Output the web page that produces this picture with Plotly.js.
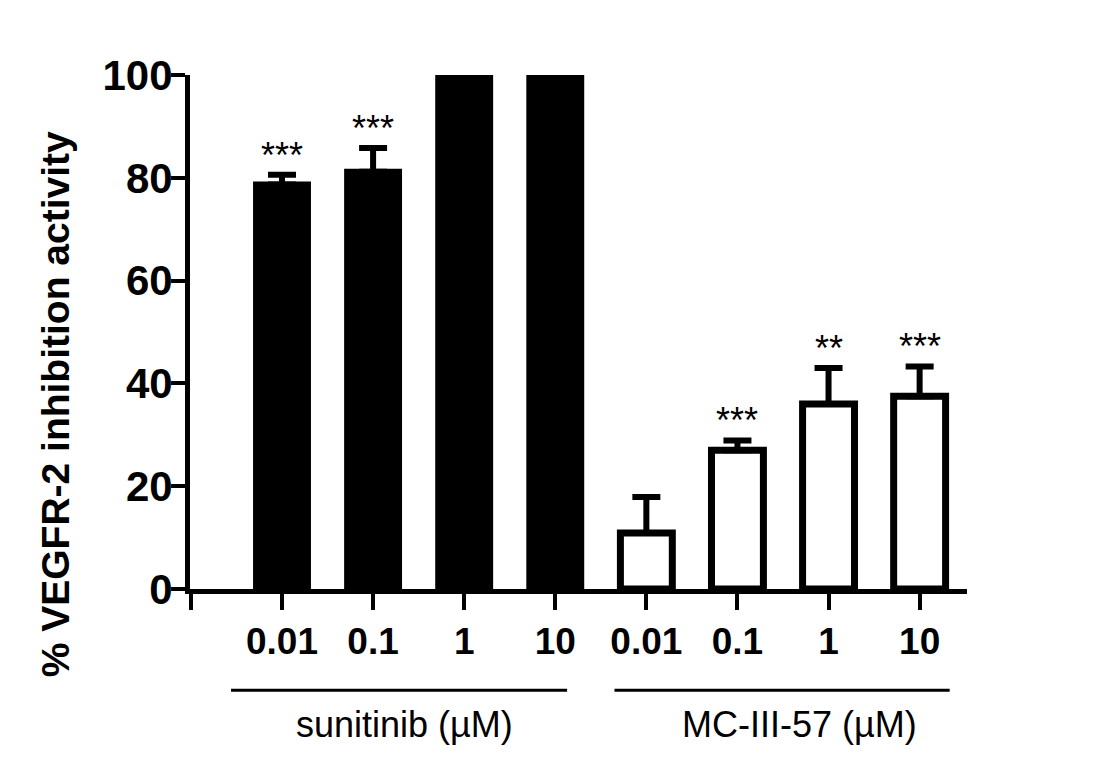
<!DOCTYPE html>
<html>
<head>
<meta charset="utf-8">
<script src="https://cdn.plot.ly/plotly-3.0.1.min.js"></script>
<style>
  html, body { margin: 0; padding: 0; background: #fff; }
  #chart { width: 1096px; height: 766px; }
</style>
</head>
<body>
<div id="chart"></div>
<script>
// concentrations (uM), same for both compounds
const doses = ['0.01', '0.1', '1', '10'];

// % VEGFR-2 inhibition
const sunitinibMean = [78.7, 81.2, 100, 100];
const sunitinibErr = [1.9, 4.6, 0, 0];
const mcMean = [10.9, 27.0, 36.0, 37.5];
const mcErr = [7.0, 1.9, 7.0, 5.8];

// significance marks over each bar
const sunitinibStars = ['***', '***', '', ''];
const mcStars = ['', '***', '**', '***'];

const groupNames = ['sunitinib (\u00b5M)', 'MC-III-57 (\u00b5M)'];
const yTitle = '% VEGFR-2 inhibition activity';

const font = 'Liberation Sans, Arial, sans-serif';

let xSun = doses.map((d, i) => i);
let xMc = doses.map((d, i) => i + 4);

let traceSun = {
    x: xSun,
    y: sunitinibMean,
    type: 'bar',
    width: 0.57,
    marker: { color: '#000', line: { color: '#000', width: 6 } },
    error_y: {
        type: 'data', symmetric: false,
        array: sunitinibErr, arrayminus: sunitinibErr.map(() => 0),
        color: '#000', thickness: 6, width: 14
    },
    name: 'sunitinib',
    hoverinfo: 'y'
};

let traceMc = {
    x: xMc,
    y: mcMean,
    type: 'bar',
    width: 0.57,
    marker: { color: '#fff', line: { color: '#000', width: 7 } },
    error_y: {
        type: 'data', symmetric: false,
        array: mcErr, arrayminus: mcErr.map(() => 0),
        color: '#000', thickness: 6, width: 14
    },
    name: 'MC-III-57',
    hoverinfo: 'y'
};

// stars sit a bit above the error bar caps
let annotations = [];
function addStars(xs, means, errs, stars) {
    xs.forEach((x, i) => {
        if (!stars[i]) return;
        annotations.push({
            x: x, y: means[i] + errs[i] + 3.8,
            xref: 'x', yref: 'y',
            text: stars[i], showarrow: false,
            yanchor: 'middle',
            font: { family: font, size: 36, color: '#000' }
        });
    });
}
addStars(xSun, sunitinibMean, sunitinibErr, sunitinibStars);
addStars(xMc, mcMean, mcErr, mcStars);

// group brackets under the dose labels
let groupLines = [[-0.56, 3.13], [3.65, 7.33]];
let shapes = [];
groupNames.forEach((name, g) => {
    let [x0, x1] = groupLines[g];
    shapes.push({
        type: 'line', xref: 'x', yref: 'paper',
        x0: x0, x1: x1, y0: -0.197, y1: -0.197,
        line: { color: '#000', width: 3 }
    });
    annotations.push({
        x: g === 0 ? 1.35 : 5.68, y: -0.263,
        xref: 'x', yref: 'paper',
        text: name, showarrow: false,
        xanchor: 'center', yanchor: 'middle',
        font: { family: font, size: 36, color: '#000' }
    });
});

// y title as a rotated annotation, it sits lower than the plot middle
annotations.push({
    x: -0.172, y: 0.36, xref: 'paper', yref: 'paper',
    text: yTitle, textangle: -90, showarrow: false,
    xanchor: 'center', yanchor: 'middle',
    font: { family: font, size: 39, color: '#000', weight: 'bold' }
});

let layout = {
    width: 1096,
    height: 766,
    margin: { l: 190, r: 129, t: 75, b: 176.5 },
    paper_bgcolor: '#fff',
    plot_bgcolor: '#fff',
    showlegend: false,
    barmode: 'overlay',
    xaxis: {
        range: [-1.01, 7.52],
        tickmode: 'array',
        tickvals: [-1].concat(xSun, xMc),
        ticktext: [''].concat(doses, doses),
        ticks: 'outside', ticklen: 16, tickwidth: 4, tickcolor: '#000',
        showline: true, linecolor: '#000', linewidth: 5,
        showgrid: false, zeroline: false,
        tickfont: { family: font, size: 37, color: '#000', weight: 'bold' },
        fixedrange: true
    },
    yaxis: {
        range: [0, 100],
        tickvals: [0, 20, 40, 60, 80, 100],
        ticks: 'outside', ticklen: 14, tickwidth: 4, tickcolor: '#000',
        ticklabelstandoff: -10,
        showline: true, linecolor: '#000', linewidth: 5,
        showgrid: false, zeroline: false,
        tickfont: { family: font, size: 42, color: '#000', weight: 'bold' },
        fixedrange: true
    },
    annotations: annotations,
    shapes: shapes
};

Plotly.newPlot('chart', [traceSun, traceMc], layout, { displayModeBar: false, staticPlot: true });
</script>
</body>
</html>
